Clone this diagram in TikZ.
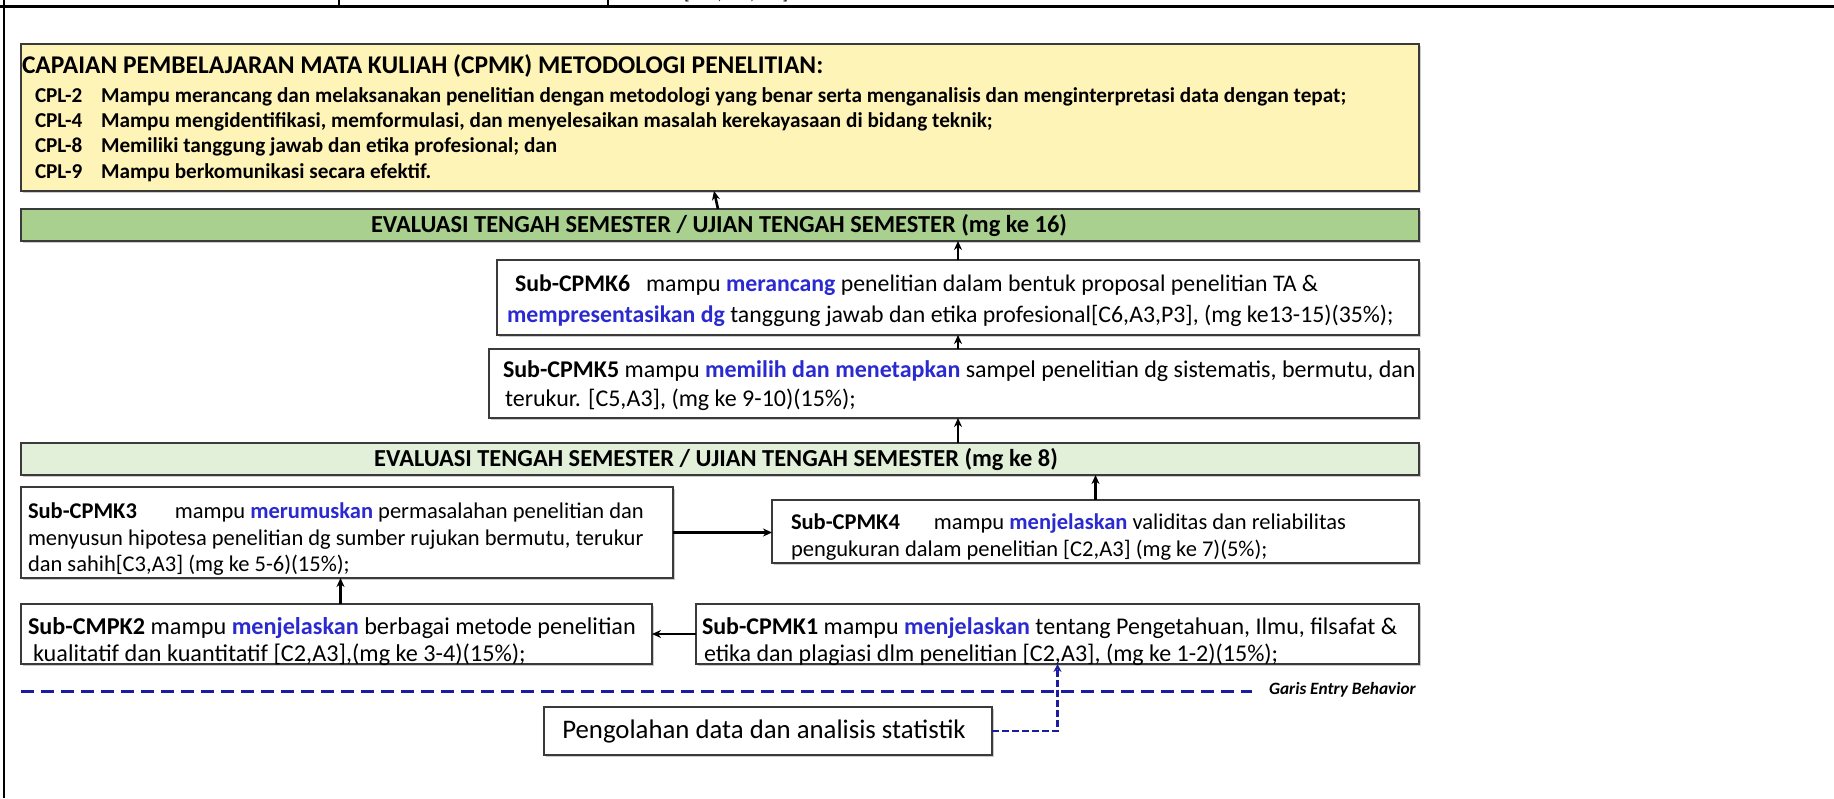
\documentclass[tikz,border=0pt]{standalone}
\usepackage{fontspec}
\setmainfont{Carlito}
\usetikzlibrary{arrows.meta,shadows}
\definecolor{cpyel}{HTML}{FFF4B8}
\definecolor{gdark}{HTML}{A9D08E}
\definecolor{glight}{HTML}{E2F0D9}
\definecolor{bord}{HTML}{3A3A3A}
\definecolor{kwblue}{HTML}{2A2AD0}
\definecolor{ebblue}{HTML}{1C1CA0}
\newcommand\kwd[1]{\textcolor{kwblue}{\textbf{#1}}}
\begin{document}
\begin{tikzpicture}[x=1pt,y=-1pt,
  every node/.style={inner sep=0pt, outer sep=0pt},
  bx/.style={draw=bord, line width=1.8pt, fill=white, anchor=north west,
    drop shadow={shadow xshift=1.5pt, shadow yshift=-1.5pt, fill=black!40}},
  bigbx/.style={bx, line width=2.2pt},
  txt/.style={anchor=base west, font=\fontsize{#1}{27}\selectfont},
  txt/.default=23.8,
  cpltxt/.style={anchor=base west, font=\fontsize{21.2}{24}\selectfont\bfseries},
  ttltxt/.style={anchor=base west, font=\fontsize{25.5}{28}\selectfont\bfseries},
  bartxt/.style={anchor=center, font=\fontsize{24.4}{26}\selectfont\bfseries},
  arr/.style={-{Stealth[length=9pt,width=8pt]}, line width=2.6pt, black},
  ebline/.style={ebblue, line width=3pt, dash pattern=on 13pt off 7pt},
  conn/.style={ebblue, line width=2.5pt, dash pattern=on 7pt off 3pt, -{Stealth[length=8pt,width=8pt]}},
  frame/.style={black, line width=2pt}]
\useasboundingbox (0,0) rectangle (1834,798);
\fill[white] (0,0) rectangle (1834,798);
% page frame remnants
\draw[frame, line width=3pt] (0,6) coordinate (ftl) -- (1834,6) coordinate (ftr);
\draw[frame] (4,0) coordinate (flt) -- (4,798) coordinate (flb);
\draw[frame, line width=1.5pt] (339,0) coordinate (t1a) -- (339,6) coordinate (t1b);
\draw[frame, line width=1.5pt] (608,0) coordinate (t2a) -- (608,6) coordinate (t2b);
\node[anchor=base west, font=\fontsize{18}{20}\selectfont] (brk) at (684,-1) {[\hspace{28pt},\hspace{28pt},\hspace{28pt}]};

% CPMK box
\node[bigbx, fill=cpyel, minimum width=1398pt, minimum height=147pt] (cpmk) at (21,44) {};
\node[ttltxt] (ttl) at (22,73) {CAPAIAN PEMBELAJARAN MATA KULIAH (CPMK) METODOLOGI PENELITIAN:};
\node[cpltxt] (l2) at (35,102) {CPL-2};
\node[cpltxt] (t2) at (101,102) {Mampu merancang dan melaksanakan penelitian dengan metodologi yang benar serta menganalisis dan menginterpretasi data dengan tepat;};
\node[cpltxt] (l4) at (35,127) {CPL-4};
\node[cpltxt] (t4) at (101,127) {Mampu mengidentifikasi, memformulasi, dan menyelesaikan masalah kerekayasaan di bidang teknik;};
\node[cpltxt] (l8) at (35,152) {CPL-8};
\node[cpltxt] (t8) at (101,152) {Memiliki tanggung jawab dan etika profesional; dan};
\node[cpltxt] (l9) at (35,178) {CPL-9};
\node[cpltxt] (t9) at (101,178) {Mampu berkomunikasi secara efektif.};

% green bar 1
\node[bigbx, fill=gdark, minimum width=1398pt, minimum height=32pt] (g1) at (21,209) {};
\node[bartxt] (g1t) at (719,226) {EVALUASI TENGAH SEMESTER / UJIAN TENGAH SEMESTER (mg ke 16)};

% Sub-CPMK6
\node[bx, minimum width=922pt, minimum height=75pt] (c6) at (497,260) {};
\node[txt] (c6a) at (515,291) {\textbf{Sub-CPMK6}\hspace{16pt}mampu \kwd{merancang} penelitian dalam bentuk proposal penelitian TA \&};
\node[txt] (c6b) at (507,322) {\kwd{mempresentasikan dg} tanggung jawab dan etika profesional[C6,A3,P3], (mg ke13-15)(35\%);};

% Sub-CPMK5
\node[bx, minimum width=930pt, minimum height=69pt] (c5) at (489,349) {};
\node[txt=24] (c5a) at (503,377) {\textbf{Sub-CPMK5} mampu \kwd{memilih dan menetapkan} sampel penelitian dg sistematis, bermutu, dan};
\node[txt=24] (c5b) at (505,406) {terukur. [C5,A3], (mg ke 9-10)(15\%);};

% green bar 2
\node[bigbx, fill=glight, minimum width=1398pt, minimum height=32pt] (g2) at (21,443) {};
\node[bartxt] (g2t) at (716,460) {EVALUASI TENGAH SEMESTER / UJIAN TENGAH SEMESTER (mg ke 8)};

% Sub-CPMK3
\node[bx, minimum width=652pt, minimum height=91pt] (c3) at (21,487) {};
\node[txt=22.5] (c3a) at (28,518) {\textbf{Sub-CPMK3}\hspace{38pt}mampu \kwd{merumuskan} permasalahan penelitian dan};
\node[txt=22.5] (c3b) at (28,545) {menyusun hipotesa penelitian dg sumber rujukan bermutu, terukur};
\node[txt=22.5] (c3c) at (28,571) {dan sahih[C3,A3] (mg ke 5-6)(15\%);};

% Sub-CPMK4
\node[bx, minimum width=647pt, minimum height=63pt] (c4) at (772,500) {};
\node[txt=22.5] (c4a) at (791,529) {\textbf{Sub-CPMK4}\hspace{34pt}mampu \kwd{menjelaskan} validitas dan reliabilitas};
\node[txt=22.5] (c4b) at (791,556) {pengukuran dalam penelitian [C2,A3] (mg ke 7)(5\%);};

% Sub-CMPK2
\node[bx, minimum width=631pt, minimum height=60pt] (c2) at (21,604) {};
\node[txt=24.2] (c2a) at (28,634) {\textbf{Sub-CMPK2} mampu \kwd{menjelaskan} berbagai metode penelitian};
\node[txt=24.2] (c2b) at (33,661) {kualitatif dan kuantitatif [C2,A3],(mg ke 3-4)(15\%);};

% Sub-CPMK1
\node[bx, minimum width=723pt, minimum height=60pt] (c1) at (696,604) {};
\node[txt=24] (c1a) at (702,634) {\textbf{Sub-CPMK1} mampu \kwd{menjelaskan} tentang Pengetahuan, Ilmu, filsafat \&};
\node[txt=24] (c1b) at (704,661) {etika dan plagiasi dlm penelitian [C2,A3], (mg ke 1-2)(15\%);};

% entry behaviour line
\coordinate (ebl) at (21,691);
\coordinate (ebr) at (1252,691);
\draw[ebline] (ebl) -- (ebr);
\node[anchor=base west, font=\fontsize{17.3}{20}\selectfont\bfseries\itshape] (ebt) at (1269,694) {Garis Entry Behavior};

% Pengolahan
\node[bx, minimum width=448pt, minimum height=48pt] (pg) at (544,707) {};
\node[anchor=center, font=\fontsize{26.8}{30}\selectfont] (pgt) at ([xshift=-4pt]pg.center) {Pengolahan data dan analisis statistik};

% connectors
\draw[arr] ([xshift=-2pt]g1.north) -- ([xshift=-6pt]cpmk.south);
\draw[arr] (c6.north) -- (g1.south -| c6.north);
\draw[arr] (c5.north -| c6.north) -- (c6.south);
\draw[arr] (g2.north -| c6.north) -- (c5.south -| c6.north);
\draw[arr] (c4.north) -- (g2.south -| c4.north);
\draw[arr] (c3.east) -- (c4.west |- c3.east);
\draw[arr] ([xshift=4pt]c2.north) -- ([xshift=4pt]c2.north |- c3.south);
\draw[arr] (c1.west) -- (c2.east |- c1.west);
\draw[conn] (pg.east) -| (c1.south);
\end{tikzpicture}
\end{document}
